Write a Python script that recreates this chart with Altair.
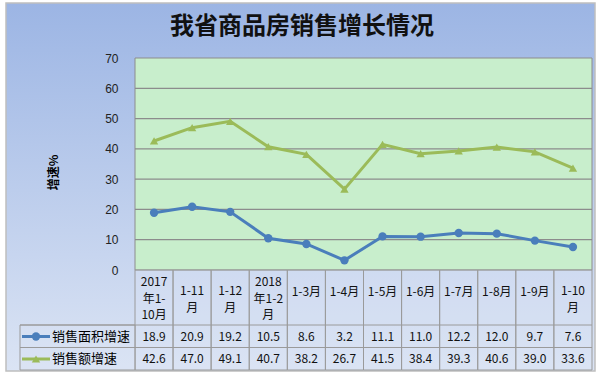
import altair as alt
import pandas as pd

# ---- data ----
categories = ["2017\n年1-\n10月", "1-11\n月", "1-12\n月", "2018\n年1-2\n月", "1-3月", "1-4月",
              "1-5月", "1-6月", "1-7月", "1-8月", "1-9月", "1-10\n月"]
area_growth = [18.9, 20.9, 19.2, 10.5, 8.6, 3.2, 11.1, 11.0, 12.2, 12.0, 9.7, 7.6]
amount_growth = [42.6, 47.0, 49.1, 40.7, 38.2, 26.7, 41.5, 38.4, 39.3, 40.6, 39.0, 33.6]
series_names = ["销售面积增速", "销售额增速"]
series_colors = ["#4a7ebb", "#9bbb59"]
series_shapes = ["circle", "triangle-up"]
y_ticks = [0, 10, 20, 30, 40, 50, 60, 70]
grid_values = [10, 20, 30, 40, 50, 60]
title_text = "我省商品房销售增长情况"
y_title = "增速%"

rows = []
for i, c in enumerate(categories):
    rows.append({"cat": c, "series": series_names[0], "value": area_growth[i]})
    rows.append({"cat": c, "series": series_names[1], "value": amount_growth[i]})
df = pd.DataFrame(rows)
cat_df = pd.DataFrame({"cat": categories})
grid_df = pd.DataFrame({"value": grid_values})
ser_df = pd.DataFrame({"series": series_names})

W, H = 457, 212
CJK = "Noto Sans CJK SC"

xenc = alt.X("cat:N", sort=categories,
             scale=alt.Scale(type="band", paddingInner=0, paddingOuter=0), axis=None)


def yenc():
    return alt.Y("value:Q", scale=alt.Scale(domain=[0, 70], nice=False),
                 axis=alt.Axis(values=y_ticks, grid=False, domain=False, ticks=False,
                               labelPadding=17, labelFontSize=12, labelFont="Liberation Sans",
                               labelColor="#222222", title=y_title, titleAngle=270,
                               titleX=-82, titleY=114, titleFont=CJK, titleFontSize=12,
                               titleFontWeight="bold", titleColor="#000000",
                               titleAlign="center", titleBaseline="middle", zindex=1))


color_scale = alt.Scale(domain=series_names, range=series_colors)
shape_scale = alt.Scale(domain=series_names, range=series_shapes)

one = pd.DataFrame({"t": [title_text]})

background = alt.Chart(one).mark_rect(
    fill=alt.LinearGradient(gradient="linear",
                            stops=[alt.GradientStop(color="#9cb5e4", offset=0),
                                   alt.GradientStop(color="#dbe4f4", offset=1)],
                            x1=0, x2=0, y1=0, y2=1),
    stroke="#bfbfbf", strokeWidth=1.5
).encode(x=alt.value(-129), x2=alt.value(460), y=alt.value(-55), y2=alt.value(313))

plot_bg = alt.Chart(one).mark_rect(fill="#c8eecc", stroke="#8c8c8c", strokeWidth=1).encode(
    x=alt.value(0), x2=alt.value(W), y=alt.value(0), y2=alt.value(H))

title = alt.Chart(one).mark_text(font=CJK, fontSize=24, fontWeight="bold", color="#111111",
                                 baseline="middle", align="center").encode(
    text="t:N", x=alt.value(167), y=alt.value(-31))

grid = alt.Chart(grid_df).mark_rule(color="#8c8c8c", strokeWidth=1.3).encode(y=yenc())

lines = alt.Chart(df).mark_line(strokeWidth=3).encode(
    x=xenc, y=yenc(), color=alt.Color("series:N", scale=color_scale, legend=None),
    detail="series:N")

points = alt.Chart(df).mark_point(filled=True, opacity=1, size=70).encode(
    x=xenc, y=yenc(), color=alt.Color("series:N", scale=color_scale, legend=None),
    shape=alt.Shape("series:N", scale=shape_scale, legend=None))

# ---- data table ----
cells = alt.Chart(cat_df).mark_rect(fill="#d9e2f3", fillOpacity=0.35, stroke="#9a9a9a",
                                    strokeWidth=1).encode(
    x=xenc, y=alt.value(H), y2=alt.value(312))
legend_cell = alt.Chart(one).mark_rect(fill="#d9e2f3", fillOpacity=0.35, stroke="#9a9a9a",
                                       strokeWidth=1).encode(
    x=alt.value(-115), x2=alt.value(0), y=alt.value(267), y2=alt.value(312))
hrules = [alt.Chart(one).mark_rule(color="#9a9a9a", strokeWidth=1).encode(
    x=alt.value(-115), x2=alt.value(W), y=alt.value(yy)) for yy in (267, 289.5)]

# header labels: first-line position depends on the number of lines
first_line_y = {1: 234, 2: 233, 3: 224}
headers = []
for n, yy in first_line_y.items():
    headers.append(
        alt.Chart(cat_df).transform_calculate(n="length(split(datum.cat, '\\n'))")
        .transform_filter(alt.datum.n == n)
        .mark_text(font=CJK, fontSize=12, lineBreak="\n", lineHeight=16.5,
                   baseline="middle", color="#111111")
        .encode(x=xenc, text="cat:N", y=alt.value(yy)))

row_y = [278.5, 301]
value_texts = []
legend_marks = []
for i, name in enumerate(series_names):
    value_texts.append(
        alt.Chart(df).transform_filter(alt.datum.series == name).mark_text(
            font=CJK, fontSize=12, baseline="middle", color="#111111").encode(
            x=xenc, y=alt.value(row_y[i]), text=alt.Text("value:Q", format=".1f")))
    sub = ser_df[ser_df.series == name]
    legend_marks.append(alt.Chart(sub).mark_rule(strokeWidth=3, color=series_colors[i]).encode(
        x=alt.value(-113), x2=alt.value(-85), y=alt.value(row_y[i])))
    legend_marks.append(alt.Chart(sub).mark_point(filled=True, opacity=1, size=70,
                                                  shape=series_shapes[i],
                                                  color=series_colors[i]).encode(
        x=alt.value(-99), y=alt.value(row_y[i])))
    legend_marks.append(alt.Chart(sub).mark_text(font=CJK, fontSize=13, align="left",
                                                 baseline="middle", color="#000000").encode(
        x=alt.value(-83), y=alt.value(row_y[i]), text="series:N"))

chart = alt.layer(background, title, plot_bg, grid, cells, legend_cell, *hrules, *headers,
                  *value_texts, *legend_marks, lines, points).properties(
    width=W, height=H,
    autosize=alt.AutoSizeParams(type="none"),
    padding={"left": 135, "top": 58, "right": 8, "bottom": 106},
    background="#ffffff",
).configure_view(stroke=None)

chart.save("out.html", embed_options={"renderer": "svg", "actions": False})
